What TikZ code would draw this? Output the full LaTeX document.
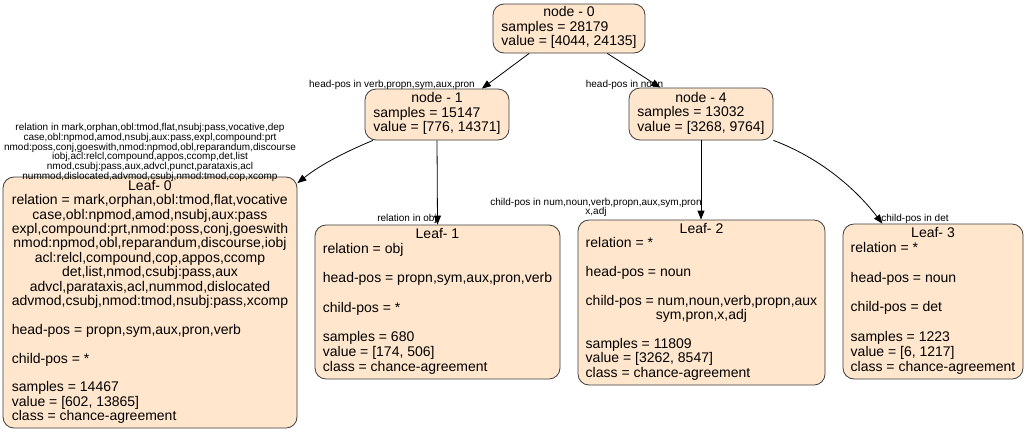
\documentclass[tikz,border=0pt]{standalone}
\usepackage{fontspec}
\setmainfont{Liberation Sans}
\usetikzlibrary{arrows.meta}
\definecolor{boxfill}{RGB}{255,230,204}
\definecolor{boxline}{RGB}{60,60,60}
\newcommand{\cenline}[1]{\multicolumn{1}{@{}c@{}}{#1}}
\begin{document}
\begin{tikzpicture}[x=1pt,y=-1pt,
  box/.style={draw=boxline,fill=boxfill,rounded corners=11pt,line width=0.8pt,inner sep=0pt,
    font=\fontsize{14}{14.3}\selectfont},
  loose/.style={font=\fontsize{14}{14.8}\selectfont},
  edge/.style={draw=black,line width=0.8pt,-{Triangle[length=9pt,width=7pt]}},
  elabel/.style={inner sep=0pt,font=\fontsize{10}{9.8}\selectfont,align=center}]
\useasboundingbox (0,0) rectangle (1027,432);

\node[box,minimum width=152pt,minimum height=49pt] (n0) at (569,28.5)
  {\begin{tabular}{@{}l@{}}\cenline{node - 0}\\ samples = 28179\\ value = [4044, 24135]\end{tabular}};
\node[box,minimum width=144pt,minimum height=51pt] (n1) at (437,114.5)
  {\begin{tabular}{@{}l@{}}\cenline{node - 1}\\ samples = 15147\\ value = [776, 14371]\end{tabular}};
\node[box,minimum width=144pt,minimum height=52pt] (n4) at (701,114)
  {\begin{tabular}{@{}l@{}}\cenline{node - 4}\\ samples = 13032\\ value = [3268, 9764]\end{tabular}};

\node[box,minimum width=294pt,minimum height=251pt] (l0) at (150,302.5)
  {\begin{tabular}{@{}l@{}}\cenline{Leaf- 0}\\
  relation = mark,orphan,obl:tmod,flat,vocative\\
  \cenline{case,obl:npmod,amod,nsubj,aux:pass}\\
  \cenline{expl,compound:prt,nmod:poss,conj,goeswith}\\
  \cenline{nmod:npmod,obl,reparandum,discourse,iobj}\\
  \cenline{acl:relcl,compound,cop,appos,ccomp}\\
  \cenline{det,list,nmod,csubj:pass,aux}\\
  \cenline{advcl,parataxis,acl,nummod,dislocated}\\
  \cenline{advmod,csubj,nmod:tmod,nsubj:pass,xcomp}\\
  \\
  head-pos = propn,sym,aux,pron,verb\\
  \\
  child-pos = *\\
  \\
  samples = 14467\\
  value = [602, 13865]\\
  class = chance-agreement\end{tabular}};

\node[box,loose,minimum width=245pt,minimum height=154pt] (l1) at (437.5,302)
  {\begin{tabular}{@{}l@{}}\cenline{Leaf- 1}\\
  relation = obj\\
  \\
  head-pos = propn,sym,aux,pron,verb\\
  \\
  child-pos = *\\
  \\
  samples = 680\\
  value = [174, 506]\\
  class = chance-agreement\end{tabular}};

\node[box,minimum width=247pt,minimum height=165pt] (l2) at (701.5,302.5)
  {\begin{tabular}{@{}l@{}}\cenline{Leaf- 2}\\
  relation = *\\
  \\
  head-pos = noun\\
  \\
  child-pos = num,noun,verb,propn,aux\\
  \cenline{sym,pron,x,adj}\\
  \\
  samples = 11809\\
  value = [3262, 8547]\\
  class = chance-agreement\end{tabular}};

\node[box,loose,minimum width=180pt,minimum height=155pt] (l3) at (933,301.5)
  {\begin{tabular}{@{}l@{}}\cenline{Leaf- 3}\\
  relation = *\\
  \\
  head-pos = noun\\
  \\
  child-pos = det\\
  \\
  samples = 1223\\
  value = [6, 1217]\\
  class = chance-agreement\end{tabular}};

% edges
\draw[edge] (n0.212) -- (n1.30.7);
\draw[edge] (n0.327) -- (n4.147);
\draw[edge] (n1.202) .. controls (345,152) and (320,165) .. (l0.39.6);
\draw[edge] (n1.south) -- (l1.north);
\draw[edge] (n4.south) -- (n4.south |- l2.north);
\draw[edge] (n4.340) .. controls (820,158) and (855,188) .. (l3.123);

% edge labels
\node[elabel] (t01) at (392,85) {head-pos in verb,propn,sym,aux,pron};
\node[elabel] (t04) at (624.5,85) {head-pos in noun};
\node[elabel] (t10) at (150,152.5) {relation in mark,orphan,obl:tmod,flat,nsubj:pass,vocative,dep\\
case,obl:npmod,amod,nsubj,aux:pass,expl,compound:prt\\
nmod:poss,conj,goeswith,nmod:npmod,obl,reparandum,discourse\\
iobj,acl:relcl,compound,appos,ccomp,det,list\\
nmod,csubj:pass,aux,advcl,punct,parataxis,acl\\
nummod,dislocated,advmod,csubj,nmod:tmod,cop,xcomp};
\node[elabel] (t11) at (407,219) {relation in obj};
\node[elabel] (t42) at (596,207.5) {child-pos in num,noun,verb,propn,aux,sym,pron\\x,adj};
\node[elabel] (t43) at (915,219) {child-pos in det};
\end{tikzpicture}
\end{document}
